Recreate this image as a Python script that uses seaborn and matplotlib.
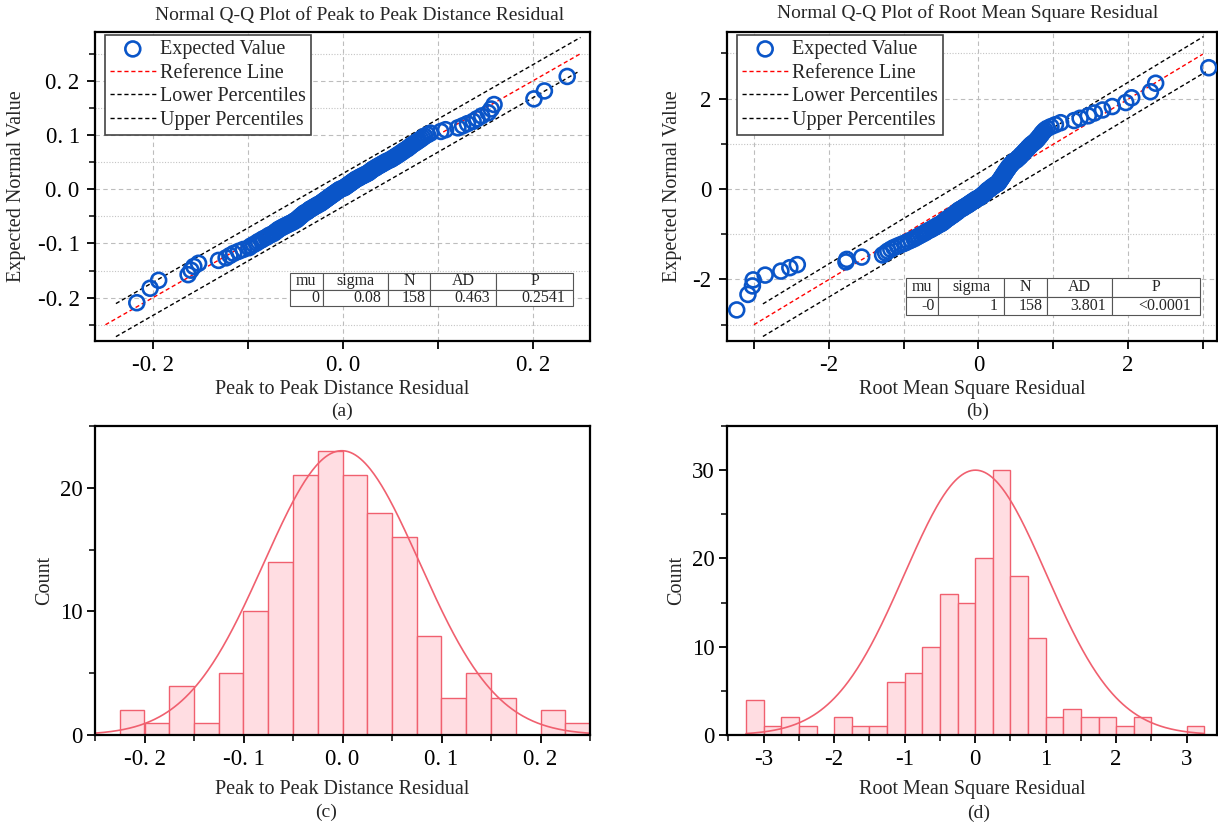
import numpy as np
import matplotlib
matplotlib.use("Agg")
import matplotlib.pyplot as plt
import seaborn as sns
from statistics import NormalDist

# residuos ordenados (a)/(c)
p2p_resid = [
    -0.217, -0.203,
    -0.194,
    -0.163, -0.160, -0.157, -0.152,
    -0.131,
    -0.123, -0.119, -0.115, -0.110, -0.105,
    -0.099, -0.097, -0.094, -0.091, -0.089, -0.086, -0.084, -0.081, -0.079, -0.077,
    -0.074, -0.072, -0.071, -0.069, -0.068, -0.066, -0.064, -0.062, -0.060, -0.058,
    -0.056, -0.054, -0.052, -0.051,
    -0.049, -0.048, -0.047, -0.046, -0.045, -0.044, -0.043, -0.042, -0.041, -0.040,
    -0.038, -0.037, -0.036, -0.035, -0.034, -0.032, -0.031, -0.030, -0.028, -0.027, -0.026,
    -0.024, -0.023, -0.022, -0.021, -0.020, -0.019, -0.018, -0.017, -0.016, -0.015,
    -0.014, -0.013, -0.012, -0.011, -0.010, -0.009, -0.008, -0.007, -0.006, -0.005,
    -0.004, -0.003, -0.001,
    0.001, 0.002, 0.003, 0.004, 0.005, 0.006, 0.007, 0.008, 0.009, 0.010,
    0.011, 0.012, 0.013, 0.014, 0.016, 0.017, 0.018, 0.020, 0.021, 0.023, 0.024,
    0.026, 0.027, 0.028, 0.029, 0.030, 0.031, 0.032, 0.034, 0.035, 0.036,
    0.038, 0.039, 0.041, 0.042, 0.044, 0.045, 0.047, 0.049,
    0.051, 0.052, 0.054, 0.055, 0.057, 0.058, 0.060, 0.061, 0.063, 0.064,
    0.066, 0.068, 0.069, 0.071, 0.072, 0.074,
    0.076, 0.078, 0.080, 0.082, 0.084, 0.086, 0.089, 0.092,
    0.103, 0.108, 0.121,
    0.126, 0.131, 0.137, 0.141, 0.146,
    0.153, 0.156, 0.159,
    0.201, 0.212,
    0.236,
]

# residuos RMS (estandarizados), grafico (b)/(d)
rms_resid = [
    -3.23, -3.08, -3.02, -3.01,
    -2.85,
    -2.64, -2.52,
    -2.42,
    -1.77, -1.76,
    -1.56,
    -1.28,
    -1.24, -1.21, -1.17, -1.13, -1.08, -1.03,
    -0.98, -0.94, -0.90, -0.86, -0.83, -0.80, -0.77,
    -0.74, -0.71, -0.69, -0.66, -0.63, -0.61, -0.58, -0.56, -0.54, -0.51,
    -0.49, -0.47, -0.46, -0.44, -0.43, -0.41, -0.39, -0.38, -0.36, -0.34,
    -0.33, -0.31, -0.30, -0.28, -0.27, -0.26,
    -0.24, -0.22, -0.20, -0.19, -0.17, -0.15, -0.14, -0.12, -0.11, -0.09,
    -0.08, -0.06, -0.05, -0.03, -0.02,
    0.01, 0.02, 0.03, 0.05, 0.06, 0.07, 0.08, 0.09, 0.10, 0.11,
    0.12, 0.13, 0.15, 0.16, 0.17, 0.18, 0.20, 0.21, 0.22, 0.24,
    0.26, 0.27, 0.27, 0.28, 0.29, 0.29, 0.30, 0.31, 0.31, 0.32,
    0.33, 0.33, 0.34, 0.35, 0.35, 0.36, 0.37, 0.37, 0.38, 0.39,
    0.40, 0.40, 0.41, 0.42, 0.43, 0.44, 0.45, 0.46, 0.47, 0.49,
    0.51, 0.52, 0.53, 0.55, 0.56, 0.57, 0.58, 0.60, 0.61, 0.62,
    0.63, 0.65, 0.66, 0.67, 0.69, 0.70, 0.72, 0.74,
    0.76, 0.78, 0.79, 0.81, 0.82, 0.84, 0.85, 0.87, 0.89, 0.92, 0.97,
    1.03, 1.10,
    1.28, 1.36, 1.47,
    1.55, 1.66,
    1.79, 1.97,
    2.05,
    2.30, 2.37,
    3.08,
]

# lineas de referencia y percentiles (extremos)
ref_a_x = [-0.25, 0.25]
ref_a_y = [-0.25, 0.25]
low_a_x = [-0.239, 0.248]
low_a_y = [-0.272, 0.217]
up_a_x = [-0.239, 0.25]
up_a_y = [-0.211, 0.28]

ref_b_x = [-3.0, 3.0]
ref_b_y = [-3.0, 2.98]
low_b_x = [-2.88, 3.04]
low_b_y = [-3.26, 2.59]
up_b_x = [-2.88, 3.01]
up_b_y = [-2.54, 3.37]

# tablas de estadisticos
tabla_cols = ["mu", "sigma", "N", "AD", "P"]
tabla_a = ["0", "0.08", "158", "0.463", "0.2541"]
tabla_b = ["-0", "1", "158", "3.801", "<0.0001"]

# etiquetas de los ejes
ticks_a = [-0.2, -0.1, 0.0, 0.1, 0.2]
ticks_a_lab = ["-0. 2", "-0. 1", "0. 0", "0. 1", "0. 2"]
ticks_a_xlab = ["-0. 2", "", "0. 0", "", "0. 2"]
ticks_b = [-3, -2, -1, 0, 1, 2, 3]
ticks_b_xlab = ["", "-2", "", "0", "", "2", ""]
ticks_b_y = [-2, 0, 2]
ticks_d_lab = ["-3", "-2", "-1", "0", "1", "2", "3"]

BLUE = "#0a55c8"
PINK_FACE = "#ffdde2"
PINK_EDGE = "#f0606f"
DASH = (0, (3, 2))

sns.set_theme(style="ticks")
plt.rcParams['font.family'] = ['Liberation Serif', 'DejaVu Serif']
plt.rcParams['axes.unicode_minus'] = False

fig = plt.figure(figsize=(12.18, 8.24), dpi=100)
W, H = 1218.0, 824.0


def caja(px_left, px_top, px_right, px_bottom):
    return [px_left / W, 1 - px_bottom / H, (px_right - px_left) / W, (px_bottom - px_top) / H]


ax_a = fig.add_axes(caja(95, 32, 590, 341))
ax_b = fig.add_axes(caja(727, 32, 1217, 341))
ax_c = fig.add_axes(caja(95, 426, 590, 735))
ax_d = fig.add_axes(caja(727, 426, 1217, 735))


def valor_normal_esperado(valores):
    n = len(valores)
    mu = np.mean(valores)
    sd = np.std(valores, ddof=1)
    nd = NormalDist()
    return np.array([mu + sd * nd.inv_cdf((i - 0.375) / (n + 0.25)) for i in range(1, n + 1)])


def estilo_ejes(ax):
    for s in ax.spines.values():
        s.set_linewidth(1.6)
        s.set_color("black")
    ax.tick_params(which="major", direction="out", length=6, width=1.3,
                   labelsize=16.5, colors="black", pad=4)
    ax.tick_params(which="minor", direction="out", length=4, width=1.3)
    ax.tick_params(axis="y", pad=5)


def panel_qq(ax, datos, ref, low, up, tabla, tabla_bbox, col_w, leg_x):
    y_exp = valor_normal_esperado(datos)
    ax.set_axisbelow(True)
    ax.grid(True, which="major", color="#bdbdbd", ls=(0, (4, 3)), lw=0.8)
    ax.grid(True, which="minor", axis="y", color="#c4c4c4", ls=(0, (1, 1.5)), lw=0.8)
    sns.scatterplot(x=datos, y=y_exp, ax=ax, s=115, facecolor="none", edgecolor=BLUE,
                    linewidth=1.9, label="Expected Value", zorder=3)
    ax.plot(ref[0], ref[1], color="red", ls=DASH, lw=1.0, label="Reference Line", zorder=2)
    ax.plot(low[0], low[1], color="black", ls=DASH, lw=1.0, label="Lower Percentiles", zorder=2)
    ax.plot(up[0], up[1], color="black", ls=DASH, lw=1.0, label="Upper Percentiles", zorder=2)
    h, l = ax.get_legend_handles_labels()
    leg = ax.legend(h, l, loc="upper left", bbox_to_anchor=(leg_x, 0.99), borderaxespad=0,
                    fontsize=14.5, frameon=True, fancybox=False, framealpha=1,
                    edgecolor="#444444", handlelength=2.3, handletextpad=0.2,
                    labelspacing=0.22, borderpad=0.25)
    leg.get_frame().set_linewidth(1.2)
    tbl = ax.table(cellText=[tabla], colLabels=tabla_cols, colWidths=col_w,
                   cellLoc="right", colLoc="center", bbox=tabla_bbox, zorder=5)
    tbl.auto_set_font_size(False)
    tbl.set_fontsize(11.5)
    for cell in tbl.get_celld().values():
        cell.set_edgecolor("#555555")
        cell.set_linewidth(0.8)
    estilo_ejes(ax)
    ax.set_ylabel("Expected Normal Value", fontsize=14.5)
    ax.yaxis.label.set_va("center")


# (a)
panel_qq(ax_a, p2p_resid, (ref_a_x, ref_a_y), (low_a_x, low_a_y), (up_a_x, up_a_y),
         tabla_a, [0.394, 0.113, 0.572, 0.107], [0.115, 0.231, 0.149, 0.233, 0.272], 0.0194)
ax_a.set_xlim(-0.261, 0.26)
ax_a.set_ylim(-0.28, 0.29)
ax_a.set_xticks(ticks_a, labels=ticks_a_xlab)
ax_a.set_yticks(ticks_a, labels=ticks_a_lab)
ax_a.set_yticks([-0.25, -0.15, -0.05, 0.05, 0.15, 0.25], minor=True)
ax_a.set_xlabel("Peak to Peak Distance Residual", fontsize=14.5)
ax_a.xaxis.label.set_va("center")
ax_a.xaxis.set_label_coords(0.5, -0.158)
ax_a.yaxis.set_label_coords(-0.158, 0.5)
ax_a.text(0.535, 1.055, "Normal Q-Q Plot of Peak to Peak Distance Residual",
          transform=ax_a.transAxes, ha="center", va="center", fontsize=14)

# (b)
panel_qq(ax_b, rms_resid, (ref_b_x, ref_b_y), (low_b_x, low_b_y), (up_b_x, up_b_y),
         tabla_b, [0.365, 0.084, 0.6, 0.12], [0.11, 0.225, 0.144, 0.223, 0.298], 0.0204)
ax_b.set_xlim(-3.36, 3.19)
ax_b.set_ylim(-3.36, 3.47)
ax_b.set_xticks(ticks_b, labels=ticks_b_xlab)
ax_b.set_yticks(ticks_b_y, labels=["-2", "0", "2"])
ax_b.set_yticks([-3, -1, 1, 3], minor=True)
ax_b.set_xlabel("Root Mean Square Residual", fontsize=14.5)
ax_b.xaxis.label.set_va("center")
ax_b.xaxis.set_label_coords(0.5, -0.158)
ax_b.yaxis.set_label_coords(-0.112, 0.5)
ax_b.text(0.492, 1.062, "Normal Q-Q Plot of Root Mean Square Residual",
          transform=ax_b.transAxes, ha="center", va="center", fontsize=14)


def panel_hist(ax, datos, bordes):
    sns.histplot(x=datos, bins=bordes, ax=ax, stat="count", color=PINK_FACE,
                 edgecolor=PINK_EDGE, linewidth=1.0, alpha=1)
    conteos, _ = np.histogram(datos, bordes)
    mu = np.mean(datos)
    sd = np.std(datos, ddof=1)
    xs = np.linspace(ax.get_xlim()[0], ax.get_xlim()[1], 400)
    ys = conteos.max() * np.exp(-0.5 * ((xs - mu) / sd) ** 2)
    sns.lineplot(x=xs, y=ys, ax=ax, color=PINK_EDGE, lw=1.2)
    estilo_ejes(ax)
    ax.tick_params(axis="y", pad=3)
    ax.set_ylabel("Count", fontsize=14.5)
    ax.yaxis.label.set_va("center")


# (c)
ax_c.set_xlim(-0.25, 0.25)
panel_hist(ax_c, p2p_resid, np.linspace(-0.225, 0.25, 20))
ax_c.set_xlim(-0.25, 0.25)
ax_c.set_ylim(0, 25)
ax_c.set_xticks(ticks_a, labels=ticks_a_lab)
ax_c.set_xticks([-0.25, -0.15, -0.05, 0.05, 0.15, 0.25], minor=True)
ax_c.set_yticks([0, 10, 20])
ax_c.set_yticks([5, 15, 25], minor=True)
ax_c.set_xlabel("Peak to Peak Distance Residual", fontsize=14.5)
ax_c.xaxis.label.set_va("center")
ax_c.xaxis.set_label_coords(0.5, -0.175)
ax_c.yaxis.set_label_coords(-0.101, 0.5)

# (d)
ax_d.set_xlim(-3.25, 3.25)
panel_hist(ax_d, rms_resid, np.linspace(-3.25, 3.25, 27))
ax_d.set_xlim(-3.52, 3.43)
ax_d.set_ylim(0, 35)
ax_d.set_xticks(ticks_b, labels=ticks_d_lab)
ax_d.set_xticks([-3.5, -2.5, -1.5, -0.5, 0.5, 1.5, 2.5], minor=True)
ax_d.set_yticks([0, 10, 20, 30])
ax_d.set_yticks([5, 15, 25, 35], minor=True)
ax_d.set_xlabel("Root Mean Square Residual", fontsize=14.5)
ax_d.xaxis.label.set_va("center")
ax_d.xaxis.set_label_coords(0.5, -0.175)
ax_d.yaxis.set_label_coords(-0.102, 0.5)

# rotulos de los subgraficos
fig.text(342 / W, 1 - 411 / H, "(a)", ha="center", va="center", fontsize=14)
fig.text(978 / W, 1 - 411 / H, "(b)", ha="center", va="center", fontsize=14)
fig.text(326 / W, 1 - 812 / H, "(c)", ha="center", va="center", fontsize=14)
fig.text(979 / W, 1 - 813 / H, "(d)", ha="center", va="center", fontsize=14)

fig.savefig("out.png", dpi=100)
